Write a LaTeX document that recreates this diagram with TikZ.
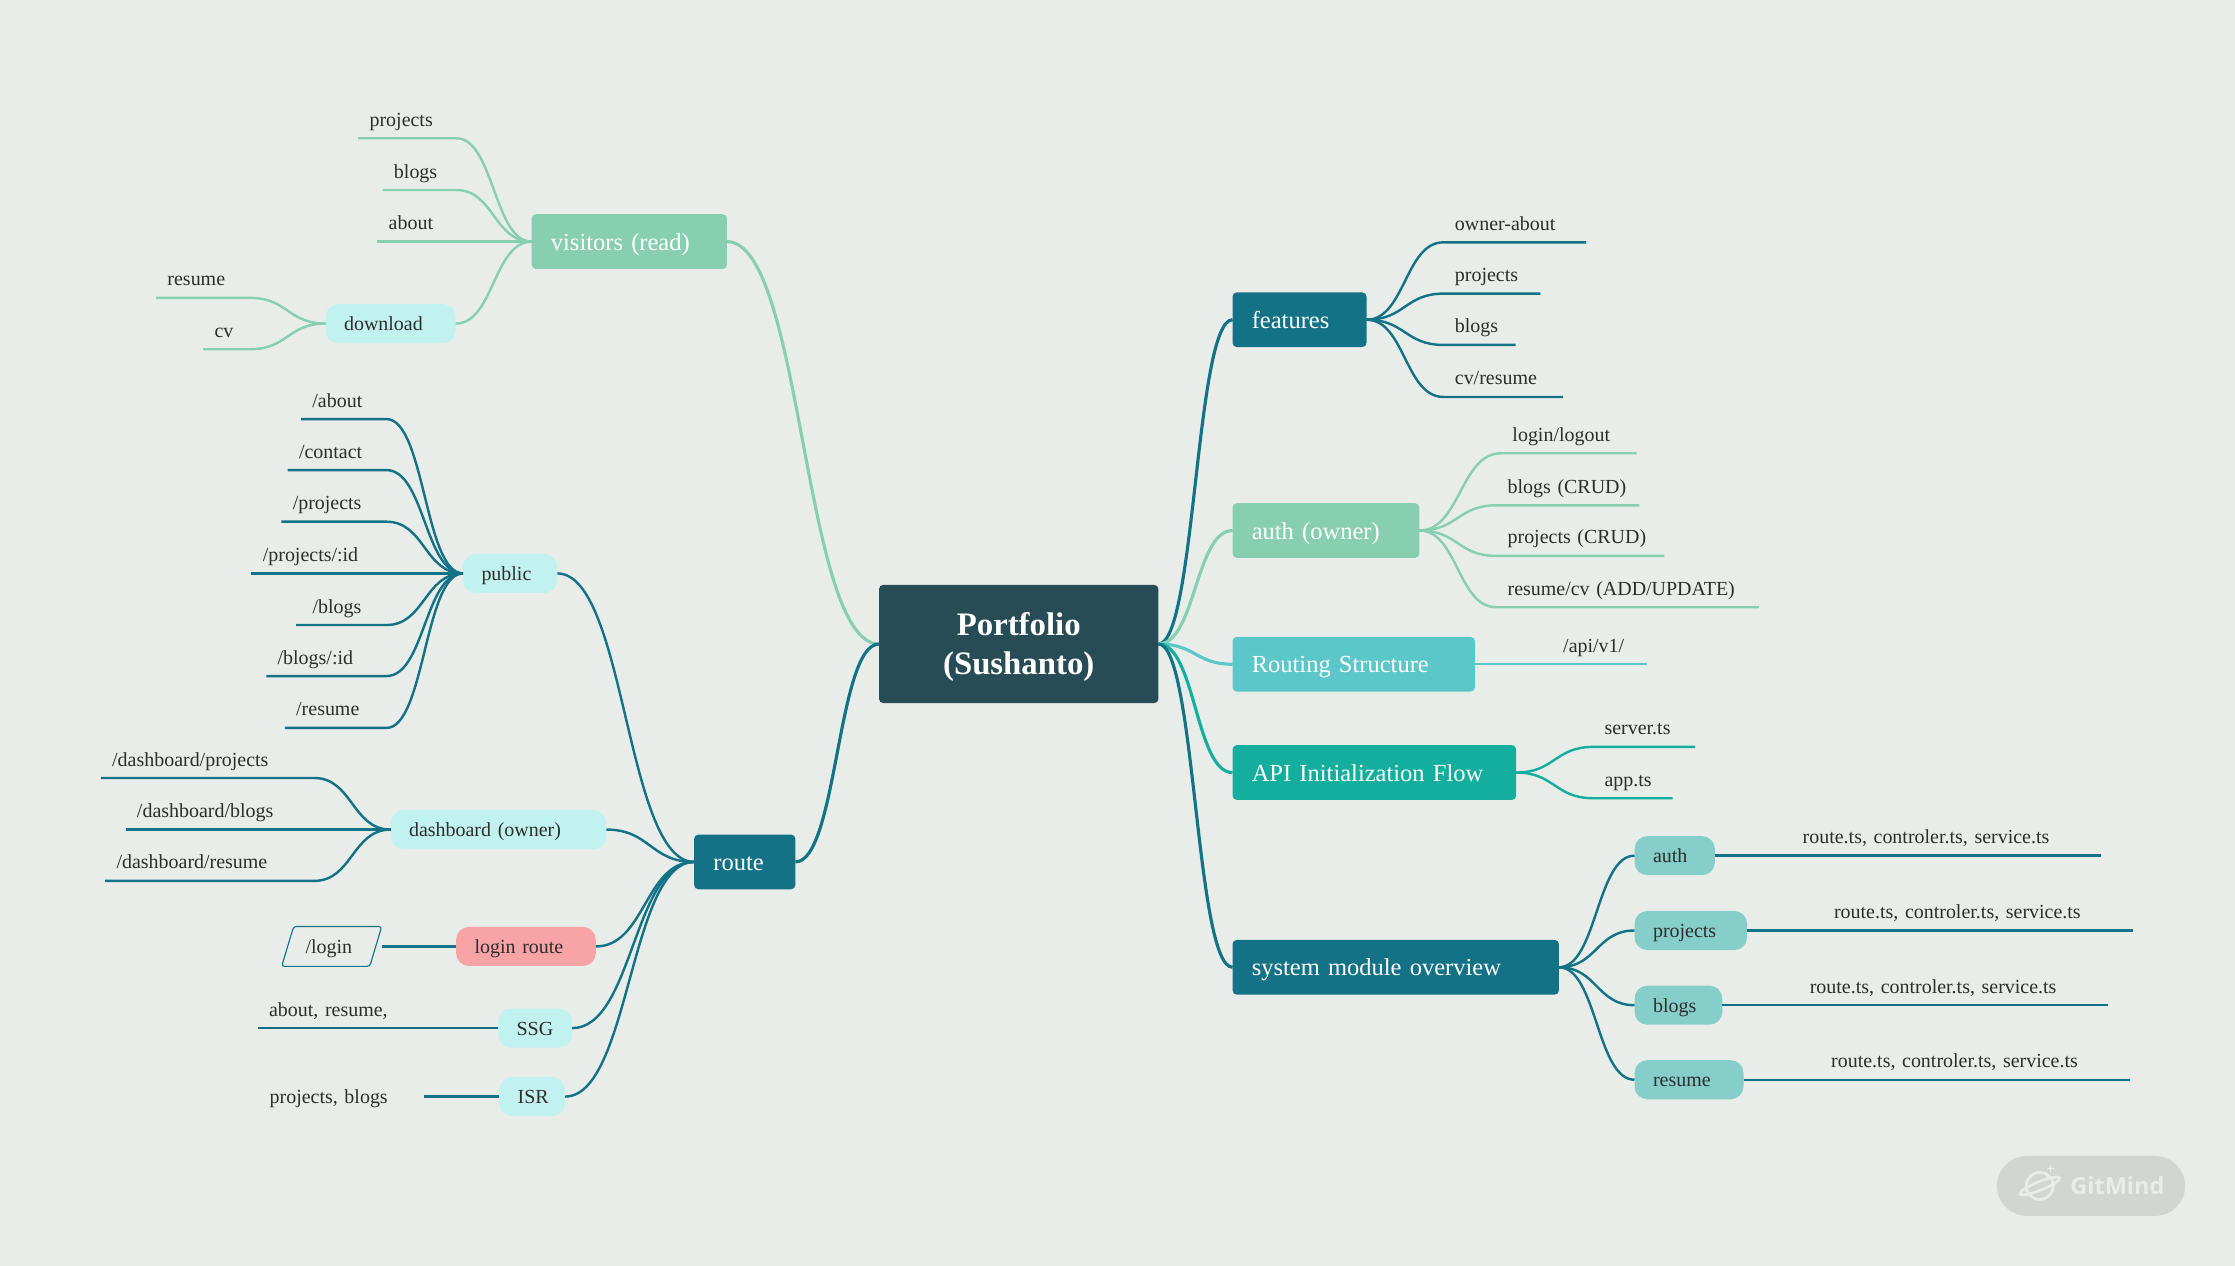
\documentclass[tikz,border=0pt]{standalone}
\usepackage{xcolor}
\usepackage{fontspec}
\setmainfont{Liberation Serif}
\newfontfamily\badgefont{Open Sans}
\usepackage{tikz}
\usetikzlibrary{positioning,shapes.geometric,calc}
\definecolor{pagegrey}{RGB}{233,237,233}
\definecolor{rootslate}{RGB}{39,76,85}
\definecolor{deepteal}{RGB}{19,114,134}
\definecolor{seagreen}{RGB}{136,206,176}
\definecolor{routecyan}{RGB}{91,199,201}
\definecolor{apiteal}{RGB}{20,174,158}
\definecolor{palecyan}{RGB}{193,242,239}
\definecolor{modulecyan}{RGB}{133,206,201}
\definecolor{loginred}{RGB}{248,163,165}
\definecolor{inkgrey}{RGB}{45,45,45}
\definecolor{badgegrey}{RGB}{209,214,211}
\tikzset{
    every node/.style={outer sep=0pt},
    rootbox/.style={fill=rootslate, text=white, rounded corners=3pt, minimum width=196pt, minimum height=83pt, align=center, font=\fontsize{23}{27.5}\selectfont\bfseries},
    branchbox/.style={text=white, rounded corners=3pt, minimum height=38.4pt, inner xsep=13.5pt, inner ysep=0pt, text width=#1, text height=15pt, text depth=3pt, align=left, font=\fontsize{17.2}{20}\selectfont\frenchspacing},
    pillbox/.style={fill=palecyan, text=inkgrey, rounded corners=9pt, minimum height=27.4pt, inner xsep=13pt, inner ysep=0pt, text width=#1, text height=12.5pt, text depth=2.5pt, align=left, font=\fontsize{14}{16}\selectfont\frenchspacing},
    leaf/.style={text=inkgrey, inner xsep=8pt, inner ysep=0pt, text width=#1, text height=10pt, text depth=8.4pt, align=left, font=\fontsize{14}{16}\selectfont\frenchspacing},
    leafleft/.style={leaf=#1, anchor=south east},
    leafright/.style={leaf=#1, anchor=south west},
    link/.style={to path={.. controls ($(\tikztostart)!0.5!(\tikztostart -| \tikztotarget)$) and ($(\tikztotarget)!0.5!(\tikztotarget -| \tikztostart)$) .. (\tikztotarget)}},
    mainline/.style={line width=2.2pt, color=#1},
    twigline/.style={line width=1.7pt, color=#1},
}

\begin{document}
\begin{tikzpicture}[x=1pt, y=-1pt, node distance=53pt]
    \fill[pagegrey] (0,0) rectangle (1568,888);
    \useasboundingbox (0,0) rectangle (1568,888);

    \node[rootbox] (root) at (714.7,451.8) {\rule{0pt}{20.7pt}Portfolio\\(Sushanto)};

    % right half
    \node[branchbox=67pt, fill=deepteal, right=52pt of root, yshift=227.5pt] (features) {features};
    \node[branchbox=104pt, fill=seagreen, right=52pt of root, yshift=79.6pt] (authowner) {auth (owner)};
    \node[branchbox=143pt, fill=routecyan, right=52pt of root, yshift=-14.2pt] (routing) {Routing Structure};
    \node[branchbox=172pt, fill=apiteal, right=52pt of root, yshift=-90.2pt] (apiflow) {API Initialization Flow};
    \node[branchbox=202pt, fill=deepteal, right=52pt of root, yshift=-226.8pt] (system) {system module overview};

    \node[right=54pt of features, yshift=54.3pt, leafright=84pt] (ownerabout) {owner-about};
    \node[right=54pt of features, yshift=18.3pt, leafright=52pt] (fprojects) {projects};
    \node[right=54pt of features, yshift=-17.7pt, leafright=34.6pt] (fblogs) {blogs};
    \node[right=54pt of features, yshift=-54.2pt, leafright=68pt] (fresume) {cv/resume};

    \node[right=57.4pt of authowner, yshift=54.2pt, leafright=79pt] (loginlogout) {login/logout};
    \node[right=54pt of authowner, yshift=17.7pt, leafright=84.5pt] (blogscrud) {blogs (CRUD)};
    \node[right=54pt of authowner, yshift=-17.8pt, leafright=102pt] (projectscrud) {projects (CRUD)};
    \node[right=54pt of authowner, yshift=-53.8pt, leafright=168.3pt] (resumeadd) {resume/cv (ADD/UPDATE)};

    \node[right=54pt of routing, leafright=50.5pt] (apiversion) {/api/v1/};
    \node[right=54pt of apiflow, yshift=18pt, leafright=55.5pt] (serverts) {server.ts};
    \node[right=54pt of apiflow, yshift=-18pt, leafright=39.8pt] (appts) {app.ts};

    \node[pillbox=30.4pt, fill=modulecyan, right=of system, yshift=78.3pt] (mauth) {auth};
    \node[pillbox=53pt, fill=modulecyan, right=of system, yshift=25.8pt] (mprojects) {projects};
    \node[pillbox=35.6pt, fill=modulecyan, right=of system, yshift=-26.6pt] (mblogs) {blogs};
    \node[pillbox=50.5pt, fill=modulecyan, right=of system, yshift=-78.9pt] (mresume) {resume};

    \node[right=53.6pt of mauth, leafright=201pt] (mauthfiles) {route.ts, controler.ts, service.ts};
    \node[right=of mprojects, leafright=202pt] (mprojectsfiles) {route.ts, controler.ts, service.ts};
    \node[right=53.4pt of mblogs, leafright=201.5pt] (mblogsfiles) {route.ts, controler.ts, service.ts};
    \node[right=53.5pt of mresume, leafright=201.6pt] (mresumefiles) {route.ts, controler.ts, service.ts};

    % left half
    \node[branchbox=110pt, fill=seagreen, left=106.7pt of root, yshift=282.3pt] (visitors) {visitors (read)};
    \node[branchbox=44pt, fill=deepteal, left=58.7pt of root, yshift=-152.9pt] (route) {route};

    \node[left=of visitors, yshift=72.5pt, leafleft=52.7pt] (vprojects) {projects};
    \node[left=of visitors, yshift=36.2pt, leafleft=35.6pt] (vblogs) {blogs};
    \node[left=of visitors, leafleft=39.3pt] (vabout) {about};
    \node[pillbox=65.3pt, left=53.3pt of visitors, yshift=-57.5pt] (download) {download};
    \node[left=of download, yshift=18pt, leafleft=49.9pt] (dresume) {resume};
    \node[left=of download, yshift=-18pt, leafleft=16.9pt] (dcv) {cv};

    \node[pillbox=40.2pt, left=96pt of route, yshift=202.4pt] (public) {public};
    \node[left=53.7pt of public, yshift=108.3pt, leafleft=43.9pt] (pabout) {/about};
    \node[left=53.7pt of public, yshift=72.5pt, leafleft=53.3pt] (pcontact) {/contact};
    \node[left=53.7pt of public, yshift=36.3pt, leafleft=57.7pt] (pprojects) {/projects};
    \node[left=53.7pt of public, leafleft=78.7pt] (pprojectsid) {/projects/:id};
    \node[left=53.7pt of public, yshift=-36.2pt, leafleft=47.3pt] (pblogs) {\hspace*{3.5pt}/blogs};
    \node[left=53.7pt of public, yshift=-72pt, leafleft=68.3pt] (pblogsid) {/blogs/:id};
    \node[left=53.7pt of public, yshift=-108.4pt, leafleft=55.3pt] (presume) {/resume};

    \node[pillbox=125.4pt, left=61.6pt of route, yshift=22.7pt] (dashboard) {dashboard (owner)};
    \node[left=53.6pt of dashboard, yshift=36.2pt, leafleft=133.7pt] (dprojects) {/dashboard/projects};
    \node[left=53.6pt of dashboard, leafleft=116.3pt] (dblogs) {/dashboard/blogs};
    \node[left=53.6pt of dashboard, yshift=-36pt, leafleft=130.6pt] (ddresume) {/dashboard/resume};

    \node[pillbox=72pt, fill=loginred, left=69pt of route, yshift=-59.3pt] (loginroute) {login route};
    \node[draw=deepteal, line width=0.8pt, text=inkgrey, trapezium, trapezium left angle=69, trapezium right angle=111, trapezium stretches=true, minimum width=70.4pt, minimum height=28pt, inner sep=0pt, rounded corners=2pt, text height=12.5pt, text depth=2.5pt, font=\fontsize{14}{16}\selectfont, left=56.4pt of loginroute] (loginpath) {/login\hspace*{4pt}};

    \node[pillbox=26pt, left=85.6pt of route, yshift=-116.6pt] (ssg) {SSG};
    \node[left=of ssg, leafleft=99.6pt] (ssgpages) {about, resume,};
    \node[pillbox=20.3pt, left=90.5pt of route, yshift=-164.6pt] (isr) {ISR};
    \node[text=inkgrey, inner xsep=8pt, inner ysep=0pt, text width=100pt, text height=12.5pt, text depth=2.5pt, align=left, font=\fontsize{14}{16}\selectfont\frenchspacing, left=of isr] (isrpages) {projects, blogs};

    % main branches
    \draw[mainline=deepteal] (root.east) to[link] (features.west);
    \draw[mainline=seagreen] (root.east) to[link] (authowner.west);
    \draw[mainline=routecyan] (root.east) to[link] (routing.west);
    \draw[mainline=apiteal] (root.east) to[link] (apiflow.west);
    \draw[mainline=deepteal] (root.east) to[link] (system.west);
    \draw[mainline=seagreen] (root.west) to[link] (visitors.east);
    \draw[mainline=deepteal] (root.west) to[link] (route.east);

    % twigs, right half
    \draw[twigline=deepteal] (features.east) to[link] (ownerabout.south west) -- (ownerabout.south east);
    \draw[twigline=deepteal] (features.east) to[link] (fprojects.south west) -- (fprojects.south east);
    \draw[twigline=deepteal] (features.east) to[link] (fblogs.south west) -- (fblogs.south east);
    \draw[twigline=deepteal] (features.east) to[link] (fresume.south west) -- (fresume.south east);
    \draw[twigline=seagreen] (authowner.east) to[link] (loginlogout.south west) -- (loginlogout.south east);
    \draw[twigline=seagreen] (authowner.east) to[link] (blogscrud.south west) -- (blogscrud.south east);
    \draw[twigline=seagreen] (authowner.east) to[link] (projectscrud.south west) -- (projectscrud.south east);
    \draw[twigline=seagreen] (authowner.east) to[link] (resumeadd.south west) -- (resumeadd.south east);
    \draw[twigline=routecyan] (routing.east) -- (apiversion.south west) -- (apiversion.south east);
    \draw[twigline=apiteal] (apiflow.east) to[link] (serverts.south west) -- (serverts.south east);
    \draw[twigline=apiteal] (apiflow.east) to[link] (appts.south west) -- (appts.south east);
    \draw[twigline=deepteal] (system.east) to[link] (mauth.west);
    \draw[twigline=deepteal] (system.east) to[link] (mprojects.west);
    \draw[twigline=deepteal] (system.east) to[link] (mblogs.west);
    \draw[twigline=deepteal] (system.east) to[link] (mresume.west);
    \draw[twigline=deepteal] (mauth.east) -- (mauthfiles.south west) -- (mauthfiles.south east);
    \draw[twigline=deepteal] (mprojects.east) -- (mprojectsfiles.south west) -- (mprojectsfiles.south east);
    \draw[twigline=deepteal] (mblogs.east) -- (mblogsfiles.south west) -- (mblogsfiles.south east);
    \draw[twigline=deepteal] (mresume.east) -- (mresumefiles.south west) -- (mresumefiles.south east);

    % twigs, left half
    \draw[twigline=seagreen] (visitors.west) to[link] (vprojects.south east) -- (vprojects.south west);
    \draw[twigline=seagreen] (visitors.west) to[link] (vblogs.south east) -- (vblogs.south west);
    \draw[twigline=seagreen] (visitors.west) -- (vabout.south east) -- (vabout.south west);
    \draw[twigline=seagreen] (visitors.west) to[link] (download.east);
    \draw[twigline=seagreen] (download.west) to[link] (dresume.south east) -- (dresume.south west);
    \draw[twigline=seagreen] (download.west) to[link] (dcv.south east) -- (dcv.south west);
    \draw[twigline=deepteal] (route.west) to[link] (public.east);
    \draw[twigline=deepteal] (route.west) to[link] (dashboard.east);
    \draw[twigline=deepteal] (route.west) to[link] (loginroute.east);
    \draw[twigline=deepteal] (route.west) to[link] (ssg.east);
    \draw[twigline=deepteal] (route.west) to[link] (isr.east);
    \draw[twigline=deepteal] (public.west) to[link] (pabout.south east) -- (pabout.south west);
    \draw[twigline=deepteal] (public.west) to[link] (pcontact.south east) -- (pcontact.south west);
    \draw[twigline=deepteal] (public.west) to[link] (pprojects.south east) -- (pprojects.south west);
    \draw[twigline=deepteal] (public.west) -- (pprojectsid.south east) -- (pprojectsid.south west);
    \draw[twigline=deepteal] (public.west) to[link] (pblogs.south east) -- (pblogs.south west);
    \draw[twigline=deepteal] (public.west) to[link] (pblogsid.south east) -- (pblogsid.south west);
    \draw[twigline=deepteal] (public.west) to[link] (presume.south east) -- (presume.south west);
    \draw[twigline=deepteal] (dashboard.west) to[link] (dprojects.south east) -- (dprojects.south west);
    \draw[twigline=deepteal] (dashboard.west) -- (dblogs.south east) -- (dblogs.south west);
    \draw[twigline=deepteal] (dashboard.west) to[link] (ddresume.south east) -- (ddresume.south west);
    \draw[twigline=deepteal] (loginroute.west) -- (loginroute.west -| loginpath.top right corner);
    \draw[twigline=deepteal] (ssg.west) -- (ssgpages.south east) -- (ssgpages.south west);
    \draw[twigline=deepteal] (isr.west) -- (isrpages.east);

    % watermark
    \node[fill=badgegrey, rounded corners=21pt, minimum width=132pt, minimum height=42pt] (badge) at (1467,832) {};
    \node[text=pagegrey, inner sep=0pt, font=\badgefont\bfseries\fontsize{16.5}{18}\selectfont] (badgetext) at (1485.5,832) {GitMind};
    \begin{scope}[shift={(1431,832)}, pagegrey, line width=1.9pt]
        \draw (0,0) circle (9.5);
        \draw[rotate=22] (0,0) ellipse (15 and 3);
        \draw[line width=0.8pt] (5,-12.5) -- (10,-12.5) (7.5,-15) -- (7.5,-10);
    \end{scope}
\end{tikzpicture}
\end{document}
